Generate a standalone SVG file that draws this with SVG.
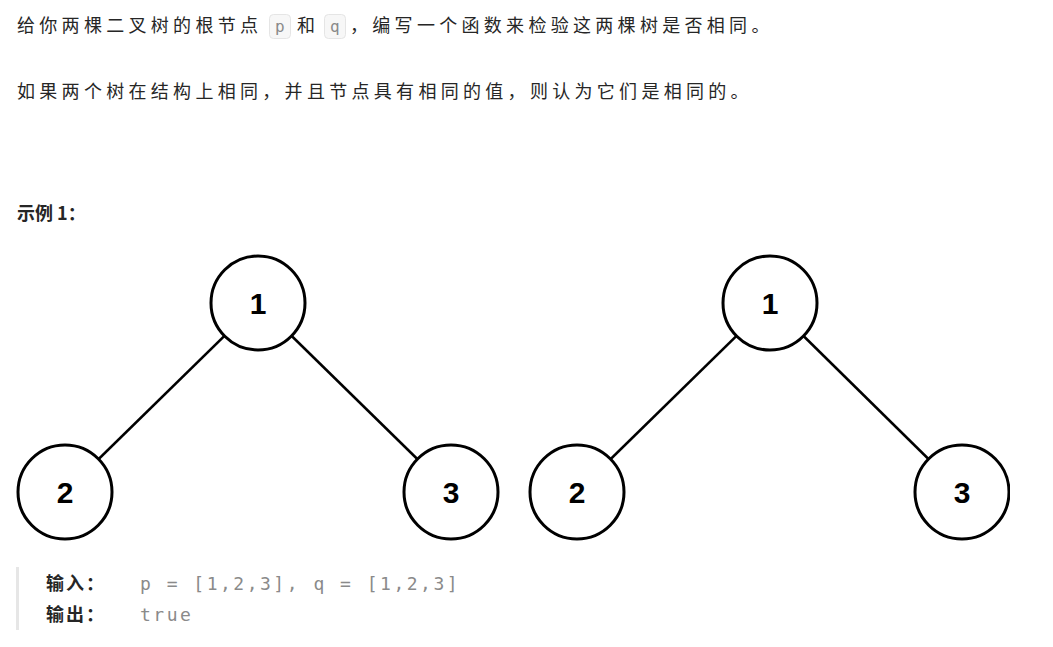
<svg xmlns="http://www.w3.org/2000/svg" width="1053" height="647" viewBox="0 0 1053 647">
<style>
.t{font-family:"Noto Sans CJK SC","Liberation Sans",sans-serif;font-size:18px;letter-spacing:4.3px;fill:#262626}
.b{font-weight:bold}
.m{font-family:"DejaVu Sans Mono","Liberation Mono",monospace;font-size:18px;letter-spacing:2.5px;fill:#8a8a8a;font-weight:normal}
.c{fill:#fff;stroke:#000;stroke-width:3}
.n{font-family:"Liberation Sans",Arial,sans-serif;font-weight:bold;font-size:30px;text-anchor:middle}
.e{stroke:#000;stroke-width:2.5}
.k{fill:#f7f7f7;stroke:#e5e5e5}
</style>
<rect width="1053" height="647" fill="#fff"/>
<rect class="k" x="269.5" y="14.5" width="21" height="24" rx="4"/>
<rect class="k" x="324.5" y="14.5" width="21" height="24" rx="4"/>
<text class="t" x="17" y="32">给你两棵二叉树的根节点<tspan class="m" style="font-size:16px" x="275">p</tspan><tspan x="297">和</tspan><tspan class="m" style="font-size:16px" x="330">q</tspan><tspan x="350">，编写一个函数来检验这两棵树是否相同。</tspan></text>
<text class="t" x="17" y="98">如果两个树在结构上相同，并且节点具有相同的值，则认为它们是相同的。</text>
<text class="t b" x="17" y="220" style="letter-spacing:0">示例 1：</text>
<clipPath id="cp"><rect x="0" y="240" width="1010" height="301"/></clipPath>
<g id="connectors" clip-path="url(#cp)">
<line class="e" x1="258" y1="303" x2="65" y2="492"/>
<line class="e" x1="258" y1="303" x2="451" y2="492"/>
<line class="e" x1="770" y1="303" x2="577" y2="492"/>
<line class="e" x1="770" y1="303" x2="962" y2="492"/>
</g>
<g clip-path="url(#cp)">
<g id="n1a"><circle class="c" cx="258" cy="303" r="47"/><text class="n" x="258" y="314">1</text></g>
<g id="n2a"><circle class="c" cx="65" cy="492" r="47"/><text class="n" x="65" y="503">2</text></g>
<g id="n3a"><circle class="c" cx="451" cy="492" r="47"/><text class="n" x="451" y="503">3</text></g>
<g id="n1b"><circle class="c" cx="770" cy="303" r="47"/><text class="n" x="770" y="314">1</text></g>
<g id="n2b"><circle class="c" cx="577" cy="492" r="47"/><text class="n" x="577" y="503">2</text></g>
<g id="n3b"><circle class="c" cx="962" cy="492" r="47"/><text class="n" x="962" y="503">3</text></g>
</g>
<rect x="16" y="567" width="3" height="63" fill="#e6e6e6"/>
<text class="t b" x="46" y="590" style="letter-spacing:2px">输入：<tspan class="m" x="140">p = [1,2,3], q = [1,2,3]</tspan></text>
<text class="t b" x="46" y="621" style="letter-spacing:2px">输出：<tspan class="m" x="140">true</tspan></text>
</svg>
